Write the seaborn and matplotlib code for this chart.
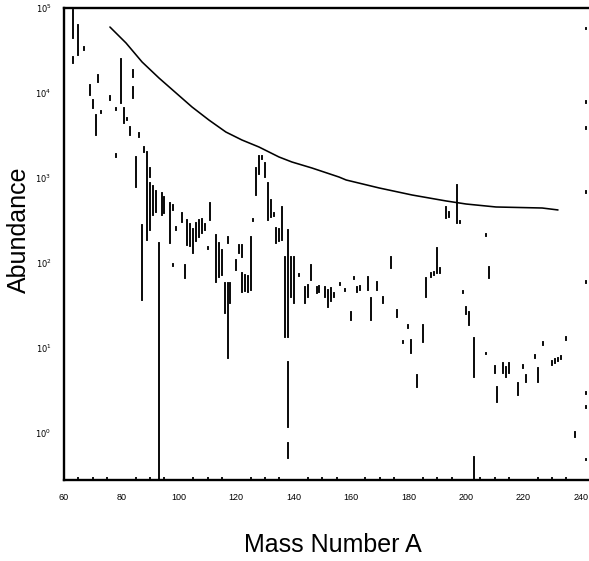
import numpy as np
import pandas as pd
import matplotlib
matplotlib.use("Agg")
import matplotlib.pyplot as plt
import seaborn as sns

# ---- data (mass number A, log10 abundance range of each vertical mark) ----
seg_A = [63, 63, 65, 67, 69, 70, 71, 72, 73, 76, 78, 78, 80, 81, 82, 83, 84, 84,
         86, 85, 88, 89, 87, 90, 90, 91, 92, 93, 94, 95, 97, 98, 99, 98, 101, 102,
         103, 104, 105, 106, 107, 108, 109, 111, 110, 113, 114, 115, 116, 117, 118, 117,
         120, 121, 122, 123, 124, 122, 125, 126, 127, 128, 129, 130, 131, 132, 133,
         134, 135, 136, 138, 138, 138, 137, 139, 140, 142, 144, 146, 145, 148, 149,
         151, 152, 153, 154, 156, 158, 160, 161, 162, 163, 166, 167, 169, 171, 174,
         176, 178, 180, 181, 183, 185, 186, 188, 189, 190, 191, 193, 194, 197, 198,
         199, 200, 201, 203, 203, 207, 208, 207, 210, 211, 213, 214, 215, 218, 220,
         221, 224, 225, 227, 230, 231, 232, 233, 235, 238,
         242, 242, 242, 242, 242, 242, 242, 242]
seg_lo = [4.65, 4.35, 4.45, 4.50, 3.98, 3.82, 3.50, 4.13, 3.76, 3.92, 3.80, 3.25, 3.88, 3.65, 3.68, 3.50, 4.19, 3.94,
          3.48, 2.89, 3.30, 2.27, 1.56, 3.01, 2.39, 2.56, 2.60, -0.56, 2.56, 2.59, 2.23, 2.62, 2.39, 1.96, 2.48, 1.82,
          2.21, 2.20, 2.11, 2.25, 2.30, 2.35, 2.38, 2.50, 2.16, 1.77, 1.83, 1.86, 1.41, 0.88, 1.53, 2.23,
          1.91, 2.11, 1.66, 1.67, 1.66, 2.07, 1.68, 2.49, 2.80, 3.05, 3.22, 3.01, 2.50, 2.54, 2.55,
          2.23, 2.25, 2.27, 1.13, 0.07, -0.30, 1.13, 1.60, 1.53, 1.84, 1.53, 1.80, 1.60, 1.64, 1.66,
          1.60, 1.48, 1.55, 1.60, 1.74, 1.67, 1.33, 1.81, 1.66, 1.68, 1.68, 1.33, 1.68, 1.53, 1.94,
          1.36, 1.05, 1.23, 0.94, 0.54, 1.07, 1.60, 1.83, 1.85, 1.88, 1.88, 2.53, 2.54, 2.47, 2.47,
          1.64, 1.40, 1.27, 0.65, -0.56, 2.31, 1.82, 0.92, 0.70, 0.36, 0.70, 0.65, 0.70, 0.44, 0.76,
          0.60, 0.88, 0.60, 1.03, 0.80, 0.82, 0.84, 0.86, 1.09, -0.05,
          4.75, 3.88, 3.58, 2.82, 1.76, 0.455, 0.29, -0.33]
seg_hi = [4.98, 4.42, 4.80, 4.54, 4.09, 3.92, 3.74, 4.21, 3.79, 3.96, 3.82, 3.28, 4.40, 3.82, 3.71, 3.60, 4.27, 4.07,
          3.53, 3.25, 3.36, 3.30, 2.44, 3.12, 2.94, 2.90, 2.85, 2.23, 2.82, 2.77, 2.70, 2.68, 2.42, 1.99, 2.59, 1.97,
          2.50, 2.45, 2.40, 2.47, 2.50, 2.52, 2.46, 2.70, 2.19, 2.33, 2.23, 2.15, 1.76, 1.76, 1.76, 2.30,
          2.03, 2.21, 1.88, 1.86, 1.84, 2.21, 2.30, 2.52, 3.12, 3.26, 3.26, 3.17, 2.94, 2.74, 2.58,
          2.41, 2.40, 2.66, 2.39, 0.83, -0.12, 2.07, 2.07, 2.07, 1.87, 1.71, 1.97, 1.74, 1.71, 1.72,
          1.71, 1.68, 1.70, 1.64, 1.76, 1.69, 1.42, 1.83, 1.71, 1.73, 1.83, 1.58, 1.77, 1.60, 2.07,
          1.44, 1.08, 1.27, 1.09, 0.68, 1.27, 1.82, 1.88, 1.89, 2.17, 1.94, 2.66, 2.60, 2.92, 2.49,
          1.67, 1.48, 1.42, 1.11, -0.29, 2.34, 1.95, 0.94, 0.78, 0.54, 0.82, 0.77, 0.82, 0.58, 0.80,
          0.68, 0.91, 0.76, 1.07, 0.84, 0.86, 0.88, 0.90, 1.12, 0.00,
          4.77, 3.90, 3.60, 2.84, 1.78, 0.475, 0.31, -0.31]

curve_A = [76.0, 81.6, 87.2, 93.1, 99.0, 104.6, 110.5, 116.4, 122.0, 127.9, 134.9, 139.4,
           146.4, 155.8, 158.3, 169.8, 181.3, 193.1, 200.1, 210.5, 226.6, 232.1]
curve_Y = [4.776, 4.588, 4.364, 4.175, 4.000, 3.834, 3.680, 3.539, 3.445, 3.363, 3.245, 3.186,
           3.115, 3.009, 2.974, 2.880, 2.797, 2.727, 2.691, 2.656, 2.644, 2.621]

x_ticks = [60, 80, 100, 120, 140, 160, 180, 200, 220, 240]
x_ticklabels = ["60", "80", "100", "120", "140", "160", "180", "200", "220", "240"]
y_ticks = [0, 1, 2, 3, 4, 5]
y_ticklabels = ["$10^{0}$", "$10^{1}$", "$10^{2}$", "$10^{3}$", "$10^{4}$", "$10^{5}$"]

# ---- build long table of segments ----
rows = []
for i, (a, lo, hi) in enumerate(zip(seg_A, seg_lo, seg_hi)):
    rows.append({"A": a, "logab": lo, "seg": i})
    rows.append({"A": a, "logab": hi, "seg": i})
seg_df = pd.DataFrame(rows)
curve_df = pd.DataFrame({"A": curve_A, "logab": curve_Y})

sns.set_style("white")
plt.rcParams["font.family"] = ["Liberation Sans", "DejaVu Sans"]
plt.rcParams["text.color"] = "black"
plt.rcParams["axes.labelcolor"] = "black"

W, H = 589, 561
fig = plt.figure(figsize=(W / 100, H / 100), dpi=100)
ax = fig.add_axes([64 / W, (H - 480) / H, 525 / W, 472 / H])

sns.lineplot(data=seg_df, x="A", y="logab", units="seg", estimator=None, sort=False,
             color="black", lw=1.35, solid_capstyle="projecting", ax=ax, legend=False)
sns.lineplot(data=curve_df, x="A", y="logab", estimator=None, sort=False,
             color="black", lw=1.15, ax=ax, legend=False)

ax.set_xlim(60, 242.9)
ax.set_ylim(-0.56, 5.0)

for s in ["left", "bottom", "top"]:
    ax.spines[s].set_visible(True)
    ax.spines[s].set_color("black")
    ax.spines[s].set_linewidth(1.7)
ax.spines["right"].set_visible(False)

ax.set_xticks(x_ticks)
ax.set_xticklabels(x_ticklabels, fontsize=6.5)
ax.set_yticks(y_ticks)
ax.set_yticklabels(y_ticklabels, fontsize=6)
ax.set_xticks(np.arange(65, 241, 5), minor=True)
ax.tick_params(axis="both", which="major", length=0, pad=9, colors="black")
ax.tick_params(axis="x", which="minor", direction="in", length=2.5, width=1.3, bottom=True, colors="black")

ax.set_xlabel("Mass Number A", fontsize=18, va="top", color="black")
ax.xaxis.set_label_coords(0.512, -0.112)
ax.set_ylabel("Abundance", fontsize=18, color="black")
ax.yaxis.set_label_coords(-0.062, 0.53)

fig.savefig("out.png", dpi=100)
